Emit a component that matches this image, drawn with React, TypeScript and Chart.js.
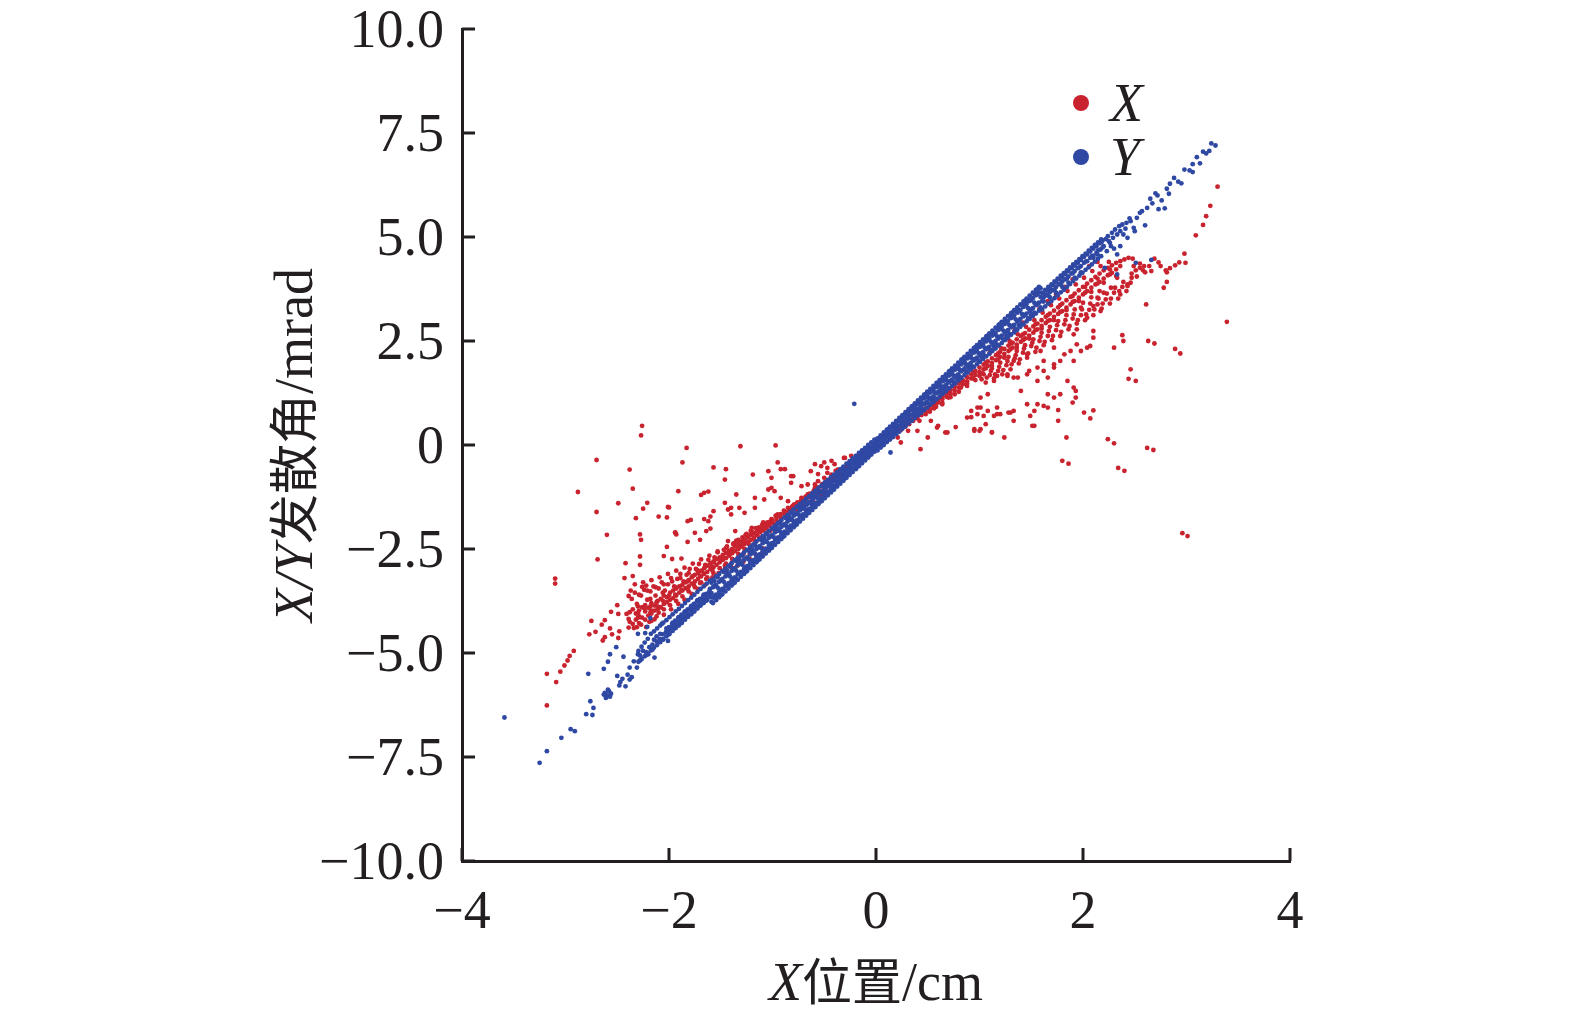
import { useEffect, useRef } from 'react';
import { Chart, registerables } from 'chart.js';

Chart.register(...registerables);

type Pt = [number, number];

// X series (red): X divergence angle vs X position
const xCoreLeft: Pt[] = [
  [-2.38,-4.25],[-2.38,-4.02],[-2.35,-4.30],[-2.35,-3.95],[-2.32,-4.20],[-2.32,-4.05],
  [-2.29,-4.28],[-2.29,-3.98],[-2.29,-4.12],[-2.26,-4.15],[-2.26,-3.90],[-2.23,-4.20],
  [-2.23,-4.00],[-2.23,-3.85],[-2.20,-4.10],[-2.20,-3.92],[-2.17,-4.05],[-2.17,-3.80],
  [-2.17,-3.98],[-2.14,-3.98],[-2.14,-3.86],[-2.11,-3.95],[-2.11,-3.75],[-2.11,-3.88],
  [-2.08,-3.90],[-2.08,-3.70],[-2.05,-3.82],[-2.05,-3.62],[-2.05,-3.95],[-2.02,-3.78],
  [-2.02,-3.66],[-1.99,-3.72],[-1.99,-3.55],[-1.99,-3.85],[-1.96,-3.68],[-1.96,-3.50],
  [-1.93,-3.62],[-1.93,-3.45],[-1.93,-3.75],[-1.90,-3.55],[-1.90,-3.40],[-1.87,-3.50],
  [-1.87,-3.36],[-1.87,-3.64],[-1.84,-3.44],[-1.84,-3.30],[-1.81,-3.40],[-1.81,-3.25],
  [-1.81,-3.52],[-1.78,-3.33],[-1.78,-3.18],[-1.75,-3.28],[-1.75,-3.12],[-1.75,-3.42],
  [-1.72,-3.22],[-1.72,-3.08],[-1.69,-3.16],[-1.69,-3.02],[-1.69,-3.30],[-1.66,-3.10],
  [-1.66,-2.96],[-1.63,-3.05],[-1.63,-2.90],[-1.63,-3.18],[-1.60,-2.98],[-1.60,-2.84],
  [-1.57,-2.94],[-1.57,-2.80],[-1.57,-3.08],[-1.54,-2.88],[-1.54,-2.74],[-1.51,-2.82],
  [-1.51,-2.70],[-1.51,-2.96],[-1.48,-2.76],[-1.48,-2.64],[-1.45,-2.72],[-1.45,-2.60],
  [-1.45,-2.85],[-1.42,-2.66],[-1.42,-2.54],[-1.39,-2.60],[-1.39,-2.50],[-1.39,-2.74],
  [-1.36,-2.55],[-1.36,-2.44],[-1.33,-2.50],[-1.33,-2.38],[-1.33,-2.62],[-1.30,-2.44],
  [-1.30,-2.32],[-1.27,-2.38],[-1.27,-2.28],[-1.27,-2.50],[-1.24,-2.33],[-1.24,-2.22],
  [-1.21,-2.28],[-1.21,-2.16],[-1.18,-2.22],[-1.18,-2.12],[-1.15,-2.16],[-1.15,-2.06],
  [-1.12,-2.10],[-1.12,-2.02],[-1.09,-2.05],[-1.09,-1.96],[-1.06,-2.00],[-1.06,-1.90],
  [-1.03,-1.94],[-1.03,-1.85],[-1.00,-1.88],[-1.00,-1.80],[-0.96,-1.82],[-0.96,-1.74],
  [-0.92,-1.75],[-0.92,-1.66],[-0.88,-1.68],[-0.88,-1.60],[-0.84,-1.60],[-0.84,-1.53],
  [-0.80,-1.53],[-0.80,-1.46],[-0.76,-1.45],[-0.76,-1.38],[-0.72,-1.38],[-0.72,-1.31],
  [-0.68,-1.30],[-0.68,-1.24],[-0.64,-1.23],[-0.64,-1.17],[-0.60,-1.15],[-0.60,-1.09],
  [-0.56,-1.08],[-0.56,-1.02],[-0.52,-1.00],[-0.52,-0.94],[-0.48,-0.93],[-0.48,-0.88],
  [-0.44,-0.85],[-0.44,-0.80],[-0.40,-0.78],[-0.40,-0.73],[-0.36,-0.70],[-0.36,-0.66],
  [-0.32,-0.63],[-0.32,-0.58],[-0.28,-0.55],[-0.28,-0.51],[-0.24,-0.48],[-0.24,-0.44],
  [-0.20,-0.40],[-0.20,-0.37],[-0.16,-0.32],[-0.12,-0.25],[-0.08,-0.17],
];

const xClusterLeft: Pt[] = [
  [-2.36,-3.70],[-2.33,-3.55],[-2.31,-3.82],[-2.27,-3.62],[-2.24,-3.48],[-2.21,-3.72],
  [-2.18,-3.52],[-2.15,-3.40],[-2.13,-3.62],[-2.10,-3.45],[-2.07,-3.30],[-2.04,-3.50],
  [-2.01,-3.35],[-1.98,-3.20],[-1.95,-3.40],[-1.92,-3.22],[-1.89,-3.10],[-1.86,-3.28],
  [-1.83,-3.12],[-1.80,-2.98],[-1.77,-3.15],[-1.74,-2.98],[-1.71,-2.86],[-1.68,-3.04],
  [-1.65,-2.88],[-1.62,-2.76],[-1.59,-2.92],[-1.56,-2.70],[-1.53,-2.58],[-1.50,-2.76],
  [-1.47,-2.52],[-1.44,-2.44],[-1.41,-2.62],[-1.38,-2.38],[-1.35,-2.30],[-1.32,-2.46],
  [-1.29,-2.22],[-1.26,-2.16],[-1.23,-2.38],[-1.20,-2.08],[-1.16,-2.00],[-1.13,-2.22],
  [-1.10,-1.92],[-1.05,-1.86],[-1.02,-2.06],[-2.34,-4.40],[-2.27,-4.32],[-2.19,-4.25],
  [-2.12,-4.12],[-2.05,-4.08],[-1.98,-3.95],[-1.91,-3.82],[-1.85,-3.72],[-1.78,-3.58],
  [-1.72,-3.46],[-1.65,-3.36],[-1.58,-3.22],[-1.52,-3.10],[-1.46,-2.98],[-1.40,-2.86],
  [-1.34,-2.74],[-1.28,-2.62],[-1.22,-2.50],[-2.30,-3.88],[-2.30,-4.05],[-2.24,-3.92],
  [-2.18,-3.70],[-2.18,-3.88],[-2.12,-3.78],[-2.06,-3.55],[-2.06,-3.74],[-2.00,-3.62],
  [-1.94,-3.42],[-1.94,-3.60],[-1.88,-3.48],[-1.82,-3.28],[-1.82,-3.46],[-1.76,-3.36],
  [-1.70,-3.15],[-1.70,-3.32],[-1.64,-3.22],[-1.58,-3.02],[-1.58,-3.18],[-1.52,-3.08],
  [-1.46,-2.90],[-1.46,-3.04],[-1.40,-2.94],[-1.34,-2.76],[-1.34,-2.90],[-1.28,-2.80],
  [-1.22,-2.62],[-1.22,-2.74],[-1.16,-2.64],[-1.10,-2.48],[-1.10,-2.60],
  [-2.37,-3.50],[-2.33,-3.35],[-2.29,-3.60],[-2.25,-3.30],[-2.21,-3.50],[-2.17,-3.25],
  [-2.13,-3.42],[-2.09,-3.18],[-2.05,-3.35],[-2.01,-3.10],[-1.97,-3.28],[-1.93,-3.02],
  [-1.89,-3.20],[-1.85,-2.95],[-1.81,-3.08],[-1.77,-2.85],[-1.73,-3.00],[-1.69,-2.75],
  [-1.65,-2.92],[-1.61,-2.66],[-1.57,-2.82],[-1.53,-2.56],[-1.49,-2.70],[-1.45,-2.48],
  [-1.41,-2.60],[-1.37,-2.36],[-1.33,-2.28],[-1.29,-2.40],[-1.25,-2.14],[-1.21,-2.06],
  [-1.17,-2.30],[-1.13,-1.98],[-1.09,-1.86],[-1.05,-2.10],[-1.01,-1.78],[-0.97,-1.70],
  [-0.93,-1.86],[-0.89,-1.58],[-0.85,-1.70],[-0.81,-1.48],[-0.77,-1.56],[-0.73,-1.36],
  [-0.69,-1.44],[-0.65,-1.26],[-0.61,-1.32],[-0.57,-1.16],[-0.53,-1.20],[-0.49,-1.04],
];

const xCoreRight: Pt[] = [
  [0.20,0.36],[0.24,0.42],[0.24,0.36],[0.28,0.50],[0.28,0.44],[0.32,0.57],[0.32,0.50],
  [0.36,0.64],[0.36,0.58],[0.40,0.72],[0.40,0.64],[0.44,0.80],[0.44,0.72],[0.48,0.88],
  [0.48,0.80],[0.48,0.74],[0.52,0.95],[0.52,0.87],[0.56,1.03],[0.56,0.95],[0.56,0.88],
  [0.60,1.10],[0.60,1.02],[0.64,1.18],[0.64,1.10],[0.64,1.02],[0.68,1.25],[0.68,1.16],
  [0.72,1.33],[0.72,1.24],[0.72,1.15],[0.76,1.40],[0.76,1.31],[0.80,1.48],[0.80,1.38],
  [0.80,1.28],[0.84,1.55],[0.84,1.46],[0.88,1.63],[0.88,1.53],[0.88,1.42],[0.92,1.70],
  [0.92,1.60],[0.96,1.78],[0.96,1.68],[0.96,1.56],[1.00,1.86],[1.00,1.75],[1.04,1.93],
  [1.04,1.82],[1.04,1.70],[1.08,2.01],[1.08,1.90],[1.12,2.08],[1.12,1.97],[1.12,1.84],
  [1.16,2.16],[1.16,2.04],[1.20,2.24],[1.20,2.12],[1.20,1.98],[1.24,2.31],[1.24,2.19],
  [1.28,2.39],[1.28,2.26],[1.28,2.12],[1.32,2.46],[1.32,2.34],[1.36,2.54],[1.36,2.41],
  [1.36,2.26],[1.40,2.62],[1.40,2.48],[1.44,2.69],[1.44,2.56],[1.44,2.40],[1.48,2.77],
  [1.48,2.63],[1.52,2.85],[1.52,2.70],[1.52,2.54],[1.56,2.92],[1.56,2.78],[1.60,3.00],
  [1.60,2.86],[1.60,2.70],[1.64,3.08],[1.64,2.93],[1.68,3.16],[1.68,3.00],[1.68,2.84],
  [1.72,3.23],[1.72,3.08],[1.76,3.31],[1.76,3.15],[1.76,2.98],[1.80,3.40],[1.80,3.22],
  [1.84,3.48],[1.84,3.30],[1.84,3.12],[1.88,3.56],[1.88,3.38],[1.92,3.64],[1.92,3.46],
  [1.92,3.26],[1.96,3.72],[1.96,3.54],[2.00,3.80],[2.00,3.62],[2.00,3.42],[2.04,3.88],
  [2.04,3.70],[2.08,3.96],[2.08,3.78],[2.08,3.55],[2.12,4.04],[2.12,3.86],[2.16,4.12],
  [2.16,3.92],[2.16,3.70],[2.20,4.20],[2.20,4.00],[2.24,4.26],[2.24,4.08],[2.28,4.32],
  [2.28,4.14],[2.32,4.38],[2.32,4.22],[2.36,4.42],[2.36,4.30],[2.40,4.46],[2.44,4.50],
  [2.48,4.48],
];

const xClusterRight: Pt[] = [
  [1.02,1.58],[1.06,1.50],[1.10,1.68],[1.14,1.60],[1.18,1.78],[1.22,1.70],[1.26,1.92],
  [1.30,1.82],[1.34,2.08],[1.38,1.96],[1.42,2.22],[1.46,2.10],[1.50,2.38],[1.54,2.24],
  [1.58,2.50],[1.62,2.40],[1.66,2.62],[1.70,2.52],[1.74,2.76],[1.78,2.62],[1.82,2.90],
  [1.86,2.78],[1.90,3.04],[1.94,2.92],[1.98,3.12],[2.02,3.00],[2.06,3.25],[2.10,3.12],
  [2.14,3.38],[2.18,3.28],[2.22,3.50],[2.26,3.40],[2.30,3.66],[2.34,3.52],[2.38,3.80],
  [2.42,3.70],[2.46,3.90],[2.52,4.05],[2.58,4.20],[2.64,4.30],[1.10,2.22],[1.18,2.40],
  [1.26,2.58],[1.34,2.76],[1.42,2.94],[1.50,3.10],[1.58,3.28],[1.66,3.46],[1.74,3.62],
  [1.82,3.80],[1.90,3.98],[1.98,4.14],[2.06,4.30],[2.14,4.40],[0.52,0.80],[0.58,0.92],
  [0.58,1.02],[0.64,0.98],[0.70,1.14],[0.70,1.26],[0.76,1.22],[0.82,1.38],[0.82,1.50],
  [0.88,1.48],[0.94,1.60],[0.94,1.74],[1.00,1.66],[1.06,1.84],[1.06,1.98],[1.12,1.90],
  [1.18,2.06],[1.18,2.20],[1.24,2.10],[1.30,2.30],[1.30,2.44],[1.36,2.34],[1.42,2.52],
  [1.42,2.66],[1.48,2.56],[1.54,2.76],[1.54,2.90],[1.60,2.80],[1.66,2.98],[1.66,3.12],
  [1.72,3.00],[1.78,3.20],[1.78,3.36],[1.84,3.24],[1.90,3.44],[1.90,3.58],[1.96,3.46],
  [2.02,3.66],[2.02,3.80],[2.08,3.68],[2.14,3.88],[2.14,4.00],[2.20,3.90],[2.26,4.10],
  [2.26,4.22],[2.32,4.06],
  [1.03,1.72],[1.07,1.62],[1.11,1.78],[1.15,1.70],[1.19,1.88],[1.23,1.80],[1.27,2.02],
  [1.31,1.94],[1.35,2.16],[1.39,2.06],[1.43,2.32],[1.47,2.20],[1.51,2.46],[1.55,2.34],
  [1.59,2.60],[1.63,2.48],[1.67,2.74],[1.71,2.62],[1.75,2.88],[1.79,2.72],[1.83,3.00],
  [1.87,2.86],[1.91,3.14],[1.95,3.00],[1.99,3.26],[2.03,3.14],[2.07,3.40],[2.11,3.26],
  [2.15,3.52],[2.19,3.40],[2.23,3.64],[2.27,3.52],[2.31,3.78],[2.35,3.70],[2.39,3.92],
  [2.43,3.86],[2.47,4.12],[2.51,4.20],[2.55,4.36],[2.59,4.30],[1.21,2.32],[1.29,2.50],
  [1.37,2.66],[1.45,2.84],[1.53,3.00],[1.61,3.18],[1.69,3.36],[1.77,3.52],[1.85,3.70],
  [1.93,3.86],[2.01,4.02],[2.09,4.18],[2.17,4.30],[2.25,4.40],
];

const xScatterLeft: Pt[] = [
  [-3.18,-6.26],[-3.09,-5.70],[-3.18,-5.50],[-3.05,-5.45],[-3.01,-5.30],[-2.98,-5.18],
  [-2.96,-5.07],[-2.92,-4.95],[-2.77,-4.55],[-2.71,-4.49],[-2.65,-4.32],[-2.64,-4.70],
  [-2.62,-4.62],[-2.55,-4.55],[-2.57,-4.41],[-2.48,-4.48],[-2.49,-4.64],[-2.75,-4.23],
  [-2.62,-4.21],[-2.50,-3.85],[-2.56,-4.01],[-2.49,-4.06],[-2.41,-4.06],[-2.39,-4.39],
  [-2.31,-4.38],[-2.22,-4.38],[-2.39,-4.18],[-2.30,-4.15],[-2.17,-4.23],[-2.14,-4.19],
  [-2.18,-4.03],[-2.10,-4.03],[-2.39,-3.63],[-2.26,-3.41],[-2.22,-3.38],[-3.10,-3.21],
  [-3.10,-3.33],[-2.43,-3.20],[-2.35,-3.15],[-2.42,-2.84],[-2.28,-2.68],[-2.28,-2.88],
  [-2.69,-2.75],[-2.02,-2.45],[-2.05,-2.67],[-1.97,-2.74],[-1.88,-2.73],[-2.60,-2.16],
  [-2.28,-2.15],[-2.27,-2.28],[-1.94,-2.10],[-1.93,-2.15],[-1.82,-2.33],[-1.70,-2.28],
  [-1.64,-2.07],[-1.60,-2.01],[-2.32,-1.76],[-2.10,-1.72],[-2.02,-1.74],[-1.79,-1.80],
  [-1.66,-1.78],[-1.60,-1.72],[-1.57,-1.59],[-1.43,-1.55],[-1.40,-1.51],[-2.70,-1.61],
  [-2.49,-1.40],[-2.21,-1.39],[-2.25,-1.53],[-2.00,-1.50],[-2.88,-1.13],[-2.35,-1.05],
  [-1.91,-1.11],[-1.69,-1.20],[-1.66,-1.15],[-1.62,-1.12],[-2.70,-0.36],[-1.87,-0.42],
  [-2.38,-0.59],[-1.57,-0.54],[-1.45,-0.58],[-1.46,-0.83],[-2.26,0.46],[-2.27,0.23],
  [-1.83,-0.07],[-1.31,-0.03],[-0.97,-0.01],[-2.01,-1.49],[-1.94,-2.11],[-1.82,-1.83],
  [-1.75,-2.11],[-1.62,-1.83],[-1.46,-1.39],[-1.40,-1.67],[-1.35,-1.19],[-1.32,-1.51],
  [-1.27,-1.63],[-1.17,-1.27],[-1.17,-1.51],[-1.08,-1.31],[-1.04,-1.07],[-1.01,-1.03],
  [-0.98,-1.11],[-1.19,-0.71],[-1.04,-0.63],[-0.95,-0.42],[-0.92,-0.58],[-1.01,-0.79],
  [-0.82,-0.75],[-0.63,-0.63],[-0.53,-0.51],[-0.50,-0.42],[-0.47,-0.55],[-0.40,-0.46],
  [-0.30,-0.31],[-0.24,-0.26],[-0.18,-0.26],[-0.11,-0.18],[-0.98,-1.91],[-0.95,-1.67],
  [-0.85,-1.51],[-0.79,-1.43],[-0.72,-1.27],[-0.66,-1.19],[-0.59,-1.03],[-0.56,-0.87],
  [-0.50,-0.79],[-0.43,-0.71],[-0.37,-0.59],[-0.92,-2.23],[-1.11,-2.07],[-1.20,-1.99],
  [-1.36,-2.07],[-1.43,-2.31],[-0.59,-0.46],[-0.43,-0.38],[-0.31,-0.31],[-0.05,-0.19],
  [-0.56,-0.70],[-0.47,-0.67],[-0.39,-0.62],[-0.34,-0.75],[-0.27,-0.55],[-0.80,-0.75],
  [-0.72,-0.99],[-0.66,-0.95],[-0.59,-0.95],[-0.88,-0.58],[-0.82,-0.91],[-0.92,-1.27],
  [-0.85,-1.35],
];

const xScatterRight: Pt[] = [
  [2.98,4.60],[2.99,4.38],[2.93,4.39],[2.89,4.32],[2.84,4.25],[2.81,4.15],[2.81,3.92],
  [2.78,3.78],[2.73,4.39],[2.69,4.48],[2.66,4.18],[2.60,4.15],[2.61,3.38],[2.75,4.30],
  [2.80,4.20],[3.30,6.21],[3.23,5.75],[3.19,5.50],[3.16,5.29],[3.09,5.04],[3.39,2.96],
  [2.69,2.44],[2.94,2.20],[2.68,-0.12],[3.01,-2.19],[2.46,1.82],[2.51,1.54],[2.30,0.04],
  [2.40,-0.62],[1.86,-0.45],[1.84,0.18],[2.38,2.64],[2.39,2.50],[2.30,2.34],[2.10,2.74],
  [2.07,2.38],[1.94,2.78],[1.91,2.66],[2.10,0.83],[2.07,0.64],[2.01,0.78],[1.93,1.30],
  [1.93,1.14],[1.90,1.02],[1.76,0.84],[1.76,0.58],[1.85,1.54],[1.66,1.22],[1.62,0.94],
  [1.49,0.70],[1.51,0.46],[1.46,0.98],[1.33,0.58],[1.24,0.18],[1.12,0.30],[1.06,0.50],
  [1.00,0.34],[0.95,0.34],[0.92,0.67],[0.98,0.90],[1.04,0.70],[1.14,0.70],[1.20,0.74],
  [1.28,0.78],[1.56,1.54],[1.62,1.78],[1.72,1.94],[1.78,2.02],[1.88,2.26],[1.94,2.42],
  [1.66,1.62],[1.48,1.78],[1.40,1.30],[1.33,1.62],[1.27,1.66],[2.36,3.62],[2.43,3.82],
  [2.47,4.02],[2.55,4.26],[2.49,4.30],[2.33,4.02],[2.27,3.78],[2.20,3.66],[2.14,3.54],
  [2.10,3.34],[2.17,3.22],[2.04,3.06],[1.98,3.30],[0.77,0.43],[0.67,0.30],[0.60,0.46],
  [0.53,0.58],[0.43,-0.10],[0.42,0.58],[0.50,0.18],[0.40,0.34],[0.31,0.34],[0.24,0.06],
  [0.21,0.18],[0.88,0.66],[0.98,0.74],[1.08,0.82],[1.17,0.90],[1.17,0.74],[1.33,0.82],
  [1.53,0.82],[1.66,0.90],[1.72,1.14],[1.78,1.22],[1.91,1.38],[1.01,1.14],[1.08,1.22],
  [1.14,1.54],[1.17,1.66],[1.27,1.70],[1.37,1.62],[1.46,1.70],[1.56,1.86],[1.62,2.02],
  [1.72,1.86],[1.33,2.02],[1.46,2.18],[1.59,2.26],[1.72,2.34],[1.82,2.18],[1.91,2.02],
  [1.98,2.26],[2.04,2.34],[2.10,2.58],[2.63,2.50],[2.44,1.59],[2.24,0.14],[2.62,-0.07],
  [2.34,-0.55],[1.80,-0.38],[2.96,-2.12],[2.89,2.31],[0.59,0.42],[0.69,0.30],[0.95,0.38],
  [1.01,0.38],[1.12,0.31],[0.92,0.82],[1.01,0.90],[1.30,0.78],[1.56,0.98],[1.53,0.46],
];

// Y series (blue): Y divergence angle, a tight band
const yBandA: Pt[] = [
  [-1.59,-3.31],[-1.59,-3.56],[-1.59,-3.77],[-1.53,-3.18],[-1.53,-3.43],[-1.53,-3.63],
  [-1.47,-3.05],[-1.47,-3.29],[-1.47,-3.49],[-1.41,-2.92],[-1.41,-3.16],[-1.41,-3.35],
  [-1.35,-2.79],[-1.35,-3.02],[-1.35,-3.21],[-1.29,-2.66],[-1.29,-2.88],[-1.29,-3.07],
  [-1.23,-2.54],[-1.23,-2.75],[-1.23,-2.93],[-1.17,-2.41],[-1.17,-2.61],[-1.17,-2.80],
  [-1.11,-2.28],[-1.11,-2.48],[-1.11,-2.66],[-1.05,-2.15],[-1.05,-2.34],[-1.05,-2.52],
  [-0.99,-2.02],[-0.99,-2.21],[-0.99,-2.38],[-0.93,-1.89],[-0.93,-2.07],[-0.93,-2.24],
  [-0.87,-1.76],[-0.87,-1.94],[-0.87,-2.10],[-0.81,-1.63],[-0.81,-1.80],[-0.81,-1.96],
  [-0.75,-1.50],[-0.75,-1.67],[-0.75,-1.82],[-0.69,-1.37],[-0.69,-1.53],[-0.69,-1.68],
  [-0.63,-1.24],[-0.63,-1.40],[-0.63,-1.54],[-0.57,-1.12],[-0.57,-1.26],[-0.57,-1.40],
  [-0.51,-0.99],[-0.51,-1.13],[-0.51,-1.26],[-0.45,-0.86],[-0.45,-0.99],[-0.45,-1.12],
  [-0.39,-0.73],[-0.39,-0.86],[-0.39,-0.98],[-0.33,-0.60],[-0.33,-0.72],[-0.33,-0.85],
  [-0.27,-0.47],[-0.27,-0.59],[-0.27,-0.71],[-0.21,-0.34],[-0.21,-0.45],[-0.21,-0.57],
  [-0.15,-0.21],[-0.15,-0.32],[-0.15,-0.43],[-0.09,-0.08],[-0.09,-0.19],[-0.09,-0.29],
  [-0.03,0.04],[-0.03,-0.05],[-0.03,-0.15],[0.03,0.15],[0.03,0.05],[0.03,-0.04],
  [0.09,0.29],[0.09,0.18],[0.09,0.09],[0.15,0.43],[0.15,0.32],[0.15,0.21],
  [0.21,0.57],[0.21,0.45],[0.21,0.34],[0.27,0.71],[0.27,0.59],[0.27,0.47],
  [0.33,0.85],[0.33,0.72],[0.33,0.60],[0.39,0.99],[0.39,0.86],[0.39,0.73],
  [0.45,1.13],[0.45,0.99],[0.45,0.86],[0.51,1.27],[0.51,1.13],[0.51,0.99],
  [0.57,1.40],[0.57,1.26],[0.57,1.12],[0.63,1.54],[0.63,1.40],[0.63,1.25],
  [0.69,1.68],[0.69,1.53],[0.69,1.38],[0.75,1.82],[0.75,1.67],[0.75,1.51],
  [0.81,1.96],[0.81,1.80],[0.81,1.64],[0.87,2.10],[0.87,1.94],[0.87,1.77],
  [0.93,2.24],[0.93,2.07],[0.93,1.89],[0.99,2.38],[0.99,2.21],[0.99,2.02],
  [1.05,2.52],[1.05,2.34],[1.05,2.15],[1.11,2.66],[1.11,2.48],[1.11,2.28],
  [1.17,2.80],[1.17,2.61],[1.17,2.41],[1.23,2.94],[1.23,2.75],[1.23,2.54],
  [1.29,3.08],[1.29,2.88],[1.29,2.67],[1.35,3.22],[1.35,3.02],[1.35,2.79],
  [1.41,3.36],[1.41,3.15],[1.41,2.92],[1.47,3.49],[1.47,3.29],[1.47,3.05],
  [1.53,3.63],[1.53,3.42],[1.53,3.18],[1.59,3.77],[1.59,3.56],[1.59,3.31],
];

const yBandB: Pt[] = [
  [-1.56,-3.39],[-1.56,-3.63],[-1.56,-3.27],[-1.50,-3.26],[-1.50,-3.49],[-1.50,-3.61],
  [-1.44,-3.13],[-1.44,-3.36],[-1.44,-3.01],[-1.38,-2.99],[-1.38,-3.22],[-1.38,-3.33],
  [-1.32,-2.86],[-1.32,-3.08],[-1.32,-2.75],[-1.26,-2.73],[-1.26,-2.94],[-1.26,-3.05],
  [-1.20,-2.60],[-1.20,-2.80],[-1.20,-2.49],[-1.14,-2.46],[-1.14,-2.67],[-1.14,-2.77],
  [-1.08,-2.33],[-1.08,-2.53],[-1.08,-2.23],[-1.02,-2.20],[-1.02,-2.39],[-1.02,-2.49],
  [-0.96,-2.07],[-0.96,-2.25],[-0.96,-1.97],[-0.90,-1.93],[-0.90,-2.12],[-0.90,-2.21],
  [-0.84,-1.80],[-0.84,-1.98],[-0.84,-1.71],[-0.78,-1.67],[-0.78,-1.84],[-0.78,-1.93],
  [-0.72,-1.54],[-0.72,-1.70],[-0.72,-1.46],[-0.66,-1.41],[-0.66,-1.56],[-0.66,-1.64],
  [-0.60,-1.27],[-0.60,-1.43],[-0.60,-1.20],[-0.54,-1.14],[-0.54,-1.29],[-0.54,-1.36],
  [-0.48,-1.01],[-0.48,-1.15],[-0.48,-0.94],[-0.42,-0.88],[-0.42,-1.01],[-0.42,-1.08],
  [-0.36,-0.74],[-0.36,-0.88],[-0.36,-0.68],[-0.30,-0.61],[-0.30,-0.74],[-0.30,-0.80],
  [-0.24,-0.48],[-0.24,-0.60],[-0.24,-0.42],[-0.18,-0.35],[-0.18,-0.46],[-0.18,-0.52],
  [-0.12,-0.21],[-0.12,-0.33],[-0.12,-0.16],[-0.06,-0.08],[-0.06,-0.19],[-0.06,-0.24],
  [0.00,0.05],[0.00,-0.05],[0.00,0.10],[0.06,0.19],[0.06,0.08],[0.06,0.03],
  [0.12,0.33],[0.12,0.21],[0.12,0.38],[0.18,0.46],[0.18,0.35],[0.18,0.29],
  [0.24,0.60],[0.24,0.48],[0.24,0.66],[0.30,0.74],[0.30,0.61],[0.30,0.55],
  [0.36,0.88],[0.36,0.74],[0.36,0.94],[0.42,1.01],[0.42,0.88],[0.42,0.81],
  [0.48,1.15],[0.48,1.01],[0.48,1.22],[0.54,1.29],[0.54,1.14],[0.54,1.07],
  [0.60,1.43],[0.60,1.27],[0.60,1.50],[0.66,1.56],[0.66,1.41],[0.66,1.33],
  [0.72,1.70],[0.72,1.54],[0.72,1.79],[0.78,1.84],[0.78,1.67],[0.78,1.59],
  [0.84,1.98],[0.84,1.80],[0.84,2.07],[0.90,2.12],[0.90,1.93],[0.90,1.84],
  [0.96,2.25],[0.96,2.07],[0.96,2.35],[1.02,2.39],[1.02,2.20],[1.02,2.10],
  [1.08,2.53],[1.08,2.33],[1.08,2.63],[1.14,2.67],[1.14,2.46],[1.14,2.36],
  [1.20,2.80],[1.20,2.60],[1.20,2.91],[1.26,2.94],[1.26,2.73],[1.26,2.62],
  [1.32,3.08],[1.32,2.86],[1.32,3.19],[1.38,3.22],[1.38,2.99],[1.38,2.88],
  [1.44,3.36],[1.44,3.13],[1.44,3.47],[1.50,3.49],[1.50,3.26],[1.50,3.14],
  [1.56,3.63],[1.56,3.39],[1.56,3.75],
];

const yBandEdges: Pt[] = [
  [-1.575,-3.23],[-1.575,-3.80],[-1.545,-3.16],[-1.545,-3.73],[-1.515,-3.10],[-1.515,-3.66],
  [-1.485,-3.03],[-1.485,-3.59],[-1.455,-2.97],[-1.455,-3.52],[-1.425,-2.90],[-1.425,-3.45],
  [-1.395,-2.84],[-1.395,-3.38],[-1.365,-2.77],[-1.365,-3.31],[-1.335,-2.71],[-1.335,-3.24],
  [-1.305,-2.65],[-1.305,-3.17],[-1.275,-2.58],[-1.275,-3.10],[-1.245,-2.52],[-1.245,-3.03],
  [-1.215,-2.45],[-1.215,-2.96],[-1.185,-2.39],[-1.185,-2.89],[-1.155,-2.32],[-1.155,-2.82],
  [-1.125,-2.26],[-1.125,-2.75],[-1.095,-2.19],[-1.095,-2.68],[-1.065,-2.13],[-1.065,-2.61],
  [-1.035,-2.07],[-1.035,-2.54],[-1.005,-2.00],[-1.005,-2.47],[-0.975,-1.94],[-0.975,-2.40],
  [-0.945,-1.87],[-0.945,-2.33],[-0.915,-1.81],[-0.915,-2.26],[-0.885,-1.74],[-0.885,-2.19],
  [-0.855,-1.68],[-0.855,-2.12],[-0.825,-1.61],[-0.825,-2.05],[-0.795,-1.55],[-0.795,-1.98],
  [-0.765,-1.48],[-0.765,-1.91],[-0.735,-1.42],[-0.735,-1.84],[-0.705,-1.36],[-0.705,-1.77],
  [-0.675,-1.29],[-0.675,-1.70],[-0.645,-1.23],[-0.645,-1.63],[-0.615,-1.16],[-0.615,-1.56],
  [-0.585,-1.10],[-0.585,-1.49],[-0.555,-1.03],[-0.555,-1.42],[-0.525,-0.97],[-0.525,-1.35],
  [-0.495,-0.90],[-0.495,-1.28],[-0.465,-0.84],[-0.465,-1.21],[-0.435,-0.77],[-0.435,-1.14],
  [-0.405,-0.71],[-0.405,-1.07],[-0.375,-0.65],[-0.375,-1.00],[-0.345,-0.58],[-0.345,-0.93],
  [-0.315,-0.52],[-0.315,-0.86],[-0.285,-0.45],[-0.285,-0.79],[-0.255,-0.39],[-0.255,-0.72],
  [-0.225,-0.32],[-0.225,-0.65],[-0.195,-0.26],[-0.195,-0.58],[-0.165,-0.19],[-0.165,-0.51],
  [-0.135,-0.13],[-0.135,-0.44],[-0.105,-0.07],[-0.105,-0.37],[-0.075,0.00],[-0.075,-0.30],
  [-0.045,0.06],[-0.045,-0.23],[-0.015,0.13],[-0.015,-0.16],[0.015,0.16],[0.015,-0.13],
  [0.045,0.23],[0.045,-0.06],[0.075,0.30],[0.075,0.00],[0.105,0.37],[0.105,0.07],
  [0.135,0.44],[0.135,0.13],[0.165,0.51],[0.165,0.19],[0.195,0.58],[0.195,0.26],
  [0.225,0.65],[0.225,0.32],[0.255,0.72],[0.255,0.39],[0.285,0.79],[0.285,0.45],
  [0.315,0.86],[0.315,0.52],[0.345,0.93],[0.345,0.58],[0.375,1.00],[0.375,0.65],
  [0.405,1.07],[0.405,0.71],[0.435,1.14],[0.435,0.77],[0.465,1.21],[0.465,0.84],
  [0.495,1.28],[0.495,0.90],[0.525,1.35],[0.525,0.97],[0.555,1.42],[0.555,1.03],
  [0.585,1.49],[0.585,1.10],[0.615,1.56],[0.615,1.16],[0.645,1.63],[0.645,1.23],
  [0.675,1.70],[0.675,1.29],[0.705,1.77],[0.705,1.36],[0.735,1.84],[0.735,1.42],
  [0.765,1.91],[0.765,1.48],[0.795,1.98],[0.795,1.55],[0.825,2.05],[0.825,1.61],
  [0.855,2.12],[0.855,1.68],[0.885,2.19],[0.885,1.74],[0.915,2.26],[0.915,1.81],
  [0.945,2.33],[0.945,1.87],[0.975,2.40],[0.975,1.94],[1.005,2.47],[1.005,2.00],
  [1.035,2.54],[1.035,2.07],[1.065,2.61],[1.065,2.13],[1.095,2.68],[1.095,2.19],
  [1.125,2.75],[1.125,2.26],[1.155,2.82],[1.155,2.32],[1.185,2.89],[1.185,2.39],
  [1.215,2.96],[1.215,2.45],[1.245,3.03],[1.245,2.52],[1.275,3.10],[1.275,2.58],
  [1.305,3.17],[1.305,2.65],[1.335,3.24],[1.335,2.71],[1.365,3.31],[1.365,2.77],
  [1.395,3.38],[1.395,2.84],[1.425,3.45],[1.425,2.90],[1.455,3.52],[1.455,2.97],
  [1.485,3.59],[1.485,3.03],[1.515,3.66],[1.515,3.10],[1.545,3.73],[1.545,3.16],
  [1.575,3.80],[1.575,3.23],
];

const yBandInner: Pt[] = [
  [-1.575,-3.42],[-1.575,-3.67],[-1.545,-3.36],[-1.545,-3.60],[-1.515,-3.29],[-1.515,-3.53],
  [-1.485,-3.22],[-1.485,-3.46],[-1.455,-3.16],[-1.455,-3.39],[-1.425,-3.09],[-1.425,-3.32],
  [-1.395,-3.03],[-1.395,-3.25],[-1.365,-2.96],[-1.365,-3.18],[-1.335,-2.89],[-1.335,-3.11],
  [-1.305,-2.83],[-1.305,-3.05],[-1.275,-2.76],[-1.275,-2.98],[-1.245,-2.70],[-1.245,-2.91],
  [-1.215,-2.63],[-1.215,-2.84],[-1.185,-2.56],[-1.185,-2.77],[-1.155,-2.50],[-1.155,-2.70],
  [-1.125,-2.43],[-1.125,-2.63],[-1.095,-2.36],[-1.095,-2.56],[-1.065,-2.30],[-1.065,-2.49],
  [-1.035,-2.23],[-1.035,-2.43],[-1.005,-2.17],[-1.005,-2.36],[-0.975,-2.10],[-0.975,-2.29],
  [-0.945,-2.03],[-0.945,-2.22],[-0.915,-1.97],[-0.915,-2.15],[-0.885,-1.90],[-0.885,-2.08],
  [-0.855,-1.84],[-0.855,-2.01],[-0.825,-1.77],[-0.825,-1.94],[-0.795,-1.70],[-0.795,-1.87],
  [-0.765,-1.64],[-0.765,-1.81],[-0.735,-1.57],[-0.735,-1.74],[-0.705,-1.50],[-0.705,-1.67],
  [-0.675,-1.44],[-0.675,-1.60],[-0.645,-1.37],[-0.645,-1.53],[-0.615,-1.31],[-0.615,-1.46],
  [-0.585,-1.24],[-0.585,-1.39],[-0.555,-1.17],[-0.555,-1.32],[-0.525,-1.11],[-0.525,-1.26],
  [-0.495,-1.04],[-0.495,-1.19],[-0.465,-0.98],[-0.465,-1.12],[-0.435,-0.91],[-0.435,-1.05],
  [-0.405,-0.84],[-0.405,-0.98],[-0.375,-0.78],[-0.375,-0.91],[-0.345,-0.71],[-0.345,-0.84],
  [-0.315,-0.64],[-0.315,-0.77],[-0.285,-0.58],[-0.285,-0.70],[-0.255,-0.51],[-0.255,-0.64],
  [-0.225,-0.45],[-0.225,-0.57],[-0.195,-0.38],[-0.195,-0.50],[-0.165,-0.31],[-0.165,-0.43],
  [-0.135,-0.25],[-0.135,-0.36],[-0.105,-0.18],[-0.105,-0.29],[-0.075,-0.12],[-0.075,-0.22],
  [-0.045,-0.05],[-0.045,-0.15],[-0.015,0.02],[-0.015,-0.08],[0.015,0.08],[0.015,-0.02],
  [0.045,0.15],[0.045,0.05],[0.075,0.22],[0.075,0.12],[0.105,0.29],[0.105,0.18],
  [0.135,0.36],[0.135,0.25],[0.165,0.43],[0.165,0.31],[0.195,0.50],[0.195,0.38],
  [0.225,0.57],[0.225,0.45],[0.255,0.64],[0.255,0.51],[0.285,0.70],[0.285,0.58],
  [0.315,0.77],[0.315,0.64],[0.345,0.84],[0.345,0.71],[0.375,0.91],[0.375,0.78],
  [0.405,0.98],[0.405,0.84],[0.435,1.05],[0.435,0.91],[0.465,1.12],[0.465,0.98],
  [0.495,1.19],[0.495,1.04],[0.525,1.26],[0.525,1.11],[0.555,1.32],[0.555,1.17],
  [0.585,1.39],[0.585,1.24],[0.615,1.46],[0.615,1.31],[0.645,1.53],[0.645,1.37],
  [0.675,1.60],[0.675,1.44],[0.705,1.67],[0.705,1.50],[0.735,1.74],[0.735,1.57],
  [0.765,1.81],[0.765,1.64],[0.795,1.87],[0.795,1.70],[0.825,1.94],[0.825,1.77],
  [0.855,2.01],[0.855,1.84],[0.885,2.08],[0.885,1.90],[0.915,2.15],[0.915,1.97],
  [0.945,2.22],[0.945,2.03],[0.975,2.29],[0.975,2.10],[1.005,2.36],[1.005,2.17],
  [1.035,2.43],[1.035,2.23],[1.065,2.49],[1.065,2.30],[1.095,2.56],[1.095,2.36],
  [1.125,2.63],[1.125,2.43],[1.155,2.70],[1.155,2.50],[1.185,2.77],[1.185,2.56],
  [1.215,2.84],[1.215,2.63],[1.245,2.91],[1.245,2.70],[1.275,2.98],[1.275,2.76],
  [1.305,3.05],[1.305,2.83],[1.335,3.11],[1.335,2.89],[1.365,3.18],[1.365,2.96],
  [1.395,3.25],[1.395,3.03],[1.425,3.32],[1.425,3.09],[1.455,3.39],[1.455,3.16],
  [1.485,3.46],[1.485,3.22],[1.515,3.53],[1.515,3.29],[1.545,3.60],[1.545,3.36],
  [1.575,3.67],[1.575,3.42],
];

const yWingLeft: Pt[] = [
  [-3.59,-6.55],[-3.25,-7.64],[-3.18,-7.36],[-3.04,-7.04],[-2.95,-6.83],[-2.91,-6.88],
  [-2.80,-6.47],[-2.74,-6.49],[-2.73,-6.32],[-2.76,-6.16],[-2.62,-5.96],[-2.60,-6.02],
  [-2.58,-5.92],[-2.61,-6.08],[-2.56,-5.98],[-2.57,-6.05],[-2.63,-6.00],[-2.59,-5.88],
  [-2.78,-5.50],[-2.63,-5.38],[-2.59,-5.21],[-2.57,-5.03],[-2.51,-4.86],[-2.50,-5.55],
  [-2.47,-5.70],[-2.45,-5.62],[-2.42,-5.80],[-2.40,-5.52],[-2.38,-5.64],[-2.36,-5.58],
  [-2.48,-5.78],[-2.44,-5.09],[-2.38,-5.35],[-2.30,-5.03],[-2.31,-5.35],[-2.20,-5.03],
  [-2.14,-5.11],[-2.30,-4.54],[-2.23,-4.52],[-2.21,-4.37],[-2.18,-4.16],[-2.07,-4.30],
  [-2.01,-4.71],[-2.34,-5.20],[-2.28,-5.06],[-2.28,-5.18],[-2.25,-4.95],[-2.22,-4.98],
  [-2.22,-5.05],[-2.19,-4.86],[-2.16,-4.80],[-2.16,-4.92],[-2.12,-4.72],[-2.12,-4.60],
  [-2.09,-4.66],[-2.06,-4.55],[-2.06,-4.68],[-2.03,-4.50],[-2.00,-4.45],[-2.00,-4.38],
  [-2.00,-4.55],[-1.97,-4.40],[-1.97,-4.30],[-1.94,-4.32],[-1.94,-4.22],[-1.94,-4.40],
  [-1.91,-4.25],[-1.91,-4.15],[-1.88,-4.18],[-1.88,-4.08],[-1.88,-4.28],[-1.85,-4.12],
  [-1.85,-4.02],[-1.82,-4.05],[-1.82,-3.95],[-1.82,-4.12],[-1.79,-3.98],[-1.79,-3.90],
  [-1.76,-3.92],[-1.76,-3.82],[-1.76,-4.00],[-1.73,-3.86],[-1.73,-3.76],[-1.70,-3.80],
  [-1.70,-3.70],[-1.70,-3.86],[-1.67,-3.72],[-1.67,-3.64],[-1.64,-3.68],[-1.64,-3.58],
  [-1.64,-3.74],[-1.61,-3.60],[-1.61,-3.52],
  [-1.605,-3.26],[-1.605,-3.66],[-1.635,-3.33],[-1.635,-3.73],[-1.665,-3.40],[-1.665,-3.80],
  [-1.695,-3.46],[-1.695,-3.86],[-1.725,-3.53],[-1.725,-3.93],[-1.755,-3.60],[-1.755,-4.00],
  [-1.785,-3.67],[-1.785,-4.07],[-1.815,-3.73],[-1.815,-4.13],[-1.845,-3.80],[-1.845,-4.20],
  [-1.875,-3.87],[-1.875,-4.27],[-1.905,-3.94],[-1.905,-4.34],[-1.935,-4.00],[-1.935,-4.40],
  [-1.965,-4.07],[-1.965,-4.47],[-1.995,-4.14],[-1.995,-4.54],[-2.025,-4.21],[-2.025,-4.60],
  [-2.055,-4.27],[-2.055,-4.67],[-2.085,-4.34],[-2.085,-4.74],[-2.115,-4.41],[-2.115,-4.81],
  [-2.145,-4.48],[-2.145,-4.87],[-2.175,-4.54],[-2.175,-4.94],[-2.205,-4.66],[-2.205,-5.01],
  [-2.235,-4.75],[-2.235,-5.08],[-2.265,-4.85],[-2.265,-5.15],[-2.295,-4.95],[-2.295,-5.21],
  [-1.605,-3.46],[-1.665,-3.60],[-1.725,-3.73],[-1.785,-3.87],[-1.845,-4.00],[-1.905,-4.14],
  [-1.965,-4.27],[-2.025,-4.41],[-2.085,-4.54],[-2.145,-4.68],
];

const yWingRight: Pt[] = [
  [1.62,3.64],[1.62,3.55],[1.62,3.45],[1.65,3.71],[1.65,3.60],[1.68,3.77],[1.68,3.68],
  [1.68,3.55],[1.71,3.84],[1.71,3.72],[1.74,3.91],[1.74,3.80],[1.74,3.66],[1.77,3.98],
  [1.77,3.86],[1.80,4.04],[1.80,3.93],[1.80,3.80],[1.83,4.11],[1.83,3.98],[1.86,4.18],
  [1.86,4.05],[1.86,3.90],[1.89,4.25],[1.89,4.12],[1.92,4.31],[1.92,4.18],[1.92,4.02],
  [1.95,4.38],[1.95,4.25],[1.98,4.45],[1.98,4.30],[1.98,4.15],[2.01,4.52],[2.01,4.38],
  [2.04,4.58],[2.04,4.42],[2.07,4.65],[2.07,4.50],[2.10,4.72],[2.10,4.55],[2.13,4.78],
  [2.13,4.62],[2.16,4.85],[2.19,4.92],[2.19,4.75],[3.28,7.20],[3.22,7.07],[3.19,7.01],
  [3.13,6.77],[3.06,6.75],[3.06,6.56],[3.03,6.60],[2.95,6.29],[2.92,6.33],[2.84,6.28],
  [2.81,6.16],[2.83,6.04],[2.76,5.88],[2.72,6.00],[2.67,5.81],[2.73,5.67],[2.79,5.69],
  [2.62,5.70],[2.57,5.62],[2.52,5.46],[2.46,5.38],[2.42,5.34],[2.49,5.22],[2.60,5.28],
  [2.50,5.14],[2.36,5.14],[2.33,5.06],[2.29,4.98],[2.43,4.98],[2.39,5.06],[2.25,4.90],
  [2.36,4.78],[2.33,4.58],[2.20,4.78],[2.17,4.70],[2.14,4.58],[2.10,4.50],[2.23,4.66],
  [2.27,4.78],[2.21,4.26],[2.66,4.45],[2.51,4.38],[2.33,4.10],[2.24,5.02],[2.28,5.10],
  [2.31,5.18],[2.35,5.26],[2.38,5.30],[2.41,5.20],[2.26,4.86],[2.30,4.72],[2.18,4.88],
  [2.22,4.95],[2.45,5.45],[2.55,5.58],[2.65,5.92],[2.70,6.05],[2.88,6.42],[2.98,6.62],
  [3.10,6.92],[3.16,7.05],[3.24,7.25],
  [1.605,3.66],[1.605,3.26],[1.635,3.73],[1.635,3.33],[1.665,3.80],[1.665,3.40],
  [1.695,3.86],[1.695,3.46],[1.725,3.93],[1.725,3.53],[1.755,4.00],[1.755,3.60],
  [1.785,4.07],[1.785,3.67],[1.815,4.13],[1.815,3.73],[1.845,4.20],[1.845,3.80],
  [1.875,4.27],[1.875,3.87],[1.905,4.34],[1.905,3.94],[1.935,4.40],[1.935,4.00],
  [1.965,4.47],[1.965,4.07],[1.995,4.54],[1.995,4.14],[2.025,4.60],[2.025,4.21],
  [2.055,4.67],[2.055,4.27],[2.085,4.74],[2.085,4.34],[2.115,4.81],[2.115,4.41],
  [2.145,4.87],[2.145,4.48],[2.175,4.94],[2.175,4.54],[1.605,3.46],[1.665,3.60],
  [1.725,3.73],[1.785,3.87],[1.845,4.00],[1.905,4.14],[1.965,4.27],[2.025,4.41],
  [2.085,4.54],[2.145,4.68],
];

const yOutliers: Pt[] = [[-0.21,0.99],[0.14,-0.18]];

const seriesNames = ['X', 'Y'];
const xTickValues = [-4, -2, 0, 2, 4];
const xTickLabels = ['\u22124', '\u22122', '0', '2', '4'];
const yTickValues = [-10, -7.5, -5, -2.5, 0, 2.5, 5, 7.5, 10];
const yTickLabels = ['\u221210.0', '\u22127.5', '\u22125.0', '\u22122.5', '0', '2.5', '5.0', '7.5', '10.0'];

const RED = '#c8232e';
const BLUE = '#2f48a4';
const INK = '#231f20';
const SERIF = '"Liberation Serif", "Times New Roman", serif';
const CJK = '"Noto Sans CJK SC", sans-serif';
const FONT_SIZE = 54;
const TICK_LEN = 13;

type Seg = { text: string; italic?: boolean; cjk?: boolean };
const xTitle: Seg[] = [{ text: 'X', italic: true }, { text: '位置', cjk: true }, { text: '/cm' }];
const yTitle: Seg[] = [{ text: 'X/Y', italic: true }, { text: '发散角', cjk: true }, { text: '/mrad' }];

const segFont = (s: Seg) =>
  s.cjk ? `${FONT_SIZE - 4}px ${CJK}` : `${s.italic ? 'italic ' : ''}${FONT_SIZE}px ${SERIF}`;

// draws centred mixed-font text with its baseline at (x, y)
function drawRich(ctx: CanvasRenderingContext2D, segs: Seg[], x: number, y: number, rot: number) {
  ctx.save();
  ctx.translate(x, y);
  ctx.rotate(rot);
  ctx.textBaseline = 'alphabetic';
  ctx.textAlign = 'left';
  const widths = segs.map((s) => {
    ctx.font = segFont(s);
    return ctx.measureText(s.text).width;
  });
  let cur = -widths.reduce((a, b) => a + b, 0) / 2;
  segs.forEach((s, i) => {
    ctx.font = segFont(s);
    ctx.fillText(s.text, cur, 0);
    cur += widths[i];
  });
  ctx.restore();
}

const decorPlugin = {
  id: 'decor',
  afterDraw(chart: Chart) {
    const { ctx, chartArea: a, scales } = chart;
    const xs = scales.x;
    const ys = scales.y;
    ctx.save();

    // inward tick marks
    ctx.strokeStyle = INK;
    ctx.lineWidth = 3;
    ctx.beginPath();
    xTickValues.forEach((v) => {
      const p = xs.getPixelForValue(v);
      ctx.moveTo(p, a.bottom);
      ctx.lineTo(p, a.bottom - TICK_LEN);
    });
    yTickValues.forEach((v) => {
      const p = ys.getPixelForValue(v);
      ctx.moveTo(a.left, p);
      ctx.lineTo(a.left + TICK_LEN, p);
    });
    ctx.stroke();

    // tick labels
    ctx.fillStyle = INK;
    ctx.font = `${FONT_SIZE}px ${SERIF}`;
    ctx.textAlign = 'center';
    ctx.textBaseline = 'alphabetic';
    xTickValues.forEach((v, i) => {
      ctx.fillText(xTickLabels[i], xs.getPixelForValue(v), a.bottom + 67);
    });
    ctx.textAlign = 'right';
    yTickValues.forEach((v, i) => {
      ctx.fillText(yTickLabels[i], a.left - 18, ys.getPixelForValue(v) + 18);
    });

    // axis titles
    drawRich(ctx, xTitle, (a.left + a.right) / 2, a.bottom + 139, 0);
    drawRich(ctx, yTitle, a.left - 150, (a.top + a.bottom) / 2, -Math.PI / 2);

    // legend inside the plot, top right
    const colors = [RED, BLUE];
    seriesNames.forEach((name, i) => {
      const cy = a.top + 74 + i * 54;
      ctx.fillStyle = colors[i];
      ctx.beginPath();
      ctx.arc(a.left + 619, cy, 8, 0, Math.PI * 2);
      ctx.fill();
      ctx.fillStyle = INK;
      ctx.font = `italic ${FONT_SIZE}px ${SERIF}`;
      ctx.textAlign = 'left';
      ctx.textBaseline = 'alphabetic';
      ctx.fillText(name, a.left + 648, cy + 18);
    });
    ctx.restore();
  },
};

const toXY = (pts: Pt[]) => pts.map(([x, y]) => ({ x, y }));

const ScatterChart = () => {
  const canvasRef = useRef<HTMLCanvasElement | null>(null);

  useEffect(() => {
    if (!canvasRef.current) return;

    const chart = new Chart(canvasRef.current, {
      type: 'scatter',
      data: {
        datasets: [
          {
            label: seriesNames[0],
            data: toXY([...xCoreLeft, ...xClusterLeft, ...xCoreRight, ...xClusterRight, ...xScatterLeft, ...xScatterRight]),
            backgroundColor: RED,
            borderWidth: 0,
            pointRadius: 2.4,
            order: 2,
          },
          {
            label: seriesNames[1],
            data: toXY([...yWingLeft, ...yBandA, ...yBandB, ...yBandEdges, ...yBandInner, ...yWingRight, ...yOutliers]),
            backgroundColor: BLUE,
            borderWidth: 0,
            pointRadius: 2.4,
            order: 1,
          },
        ],
      },
      options: {
        animation: false,
        responsive: false,
        layout: { padding: { left: 0, right: 285, top: 29, bottom: 0 } },
        plugins: { legend: { display: false }, tooltip: { enabled: false } },
        scales: {
          x: {
            type: 'linear',
            min: -4,
            max: 4,
            afterFit: (s) => {
              s.height = 159;
            },
            grid: { display: false, drawTicks: false },
            border: { display: true, color: INK, width: 3 },
            ticks: { display: false },
          },
          y: {
            type: 'linear',
            min: -10,
            max: 10,
            afterFit: (s) => {
              s.width = 462;
            },
            grid: { display: false, drawTicks: false },
            border: { display: true, color: INK, width: 3 },
            ticks: { display: false },
          },
        },
      },
      plugins: [decorPlugin],
    });

    return () => {
      chart.destroy();
    };
  }, []);

  return <canvas ref={canvasRef} width={1575} height={1020} style={{ display: 'block' }}></canvas>;
};

export default function App() {
  return (
    <div style={{ position: 'absolute', left: 0, top: 0, width: 1575, height: 1020, background: '#fff' }}>
      <ScatterChart />
    </div>
  );
}
